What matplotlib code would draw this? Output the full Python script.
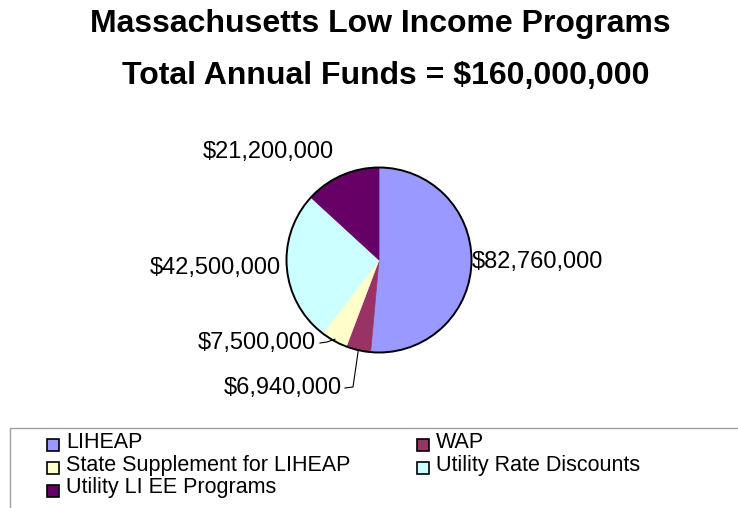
import matplotlib.pyplot as plt
import numpy as np
from matplotlib.patches import Rectangle, Circle

plt.rcParams['font.family'] = ['Liberation Sans', 'DejaVu Sans']

# program funding (dollars)
programs = ['LIHEAP', 'WAP', 'State Supplement for LIHEAP',
            'Utility Rate Discounts', 'Utility LI EE Programs']
funds = [82760000, 6940000, 7500000, 42500000, 21200000]
colors = ['#9999FF', '#993366', '#FFFFCC', '#CCFFFF', '#660066']
title1 = 'Massachusetts Low Income Programs'
title2 = 'Total Annual Funds = $160,000,000'

W, H = 738, 508
fig = plt.figure(figsize=(W / 100, H / 100), dpi=100)

# pie geometry in pixels
cx, cy, r = 379, 260, 92.5
ax = fig.add_axes([(cx - r) / W, (H - cy - r) / H, 2 * r / W, 2 * r / H])

wedges, _ = ax.pie(funds, colors=colors, startangle=90, counterclock=False,
                   radius=1, center=(0, 0))
for w, c in zip(wedges, colors):
    w.set_edgecolor(c)
    w.set_linewidth(0.5)
    w.set_clip_on(False)
ax.add_patch(Circle((0, 0), 1, fill=False, edgecolor='black', lw=1.4, clip_on=False))
ax.set_xlim(-1, 1)
ax.set_ylim(-1, 1)
ax.axis('off')

def px(x, y):
    return (x - cx) / r, (cy - y) / r

# label positions (pixel space), alignment
label_pos = [(472, 262, 'left'), (342, 388, 'right'), (316, 343, 'right'),
             (281, 268, 'right'), (268, 152, 'center')]
for i, w in enumerate(wedges):
    lx, ly, ha = label_pos[i]
    tx, ty = px(lx, ly)
    ax.text(tx, ty, '${:,}'.format(funds[i]), ha=ha, va='center',
            fontsize=17, clip_on=False)
    mid = np.deg2rad((w.theta1 + w.theta2) / 2)
    ex, ey = np.cos(mid), np.sin(mid)
    if i == 1:
        p1 = px(345, 388)
        p2 = px(353, 387)
        ax.plot([p1[0], p2[0], ex], [p1[1], p2[1], ey], color='black',
                lw=0.8, clip_on=False)
    elif i == 2:
        p1 = px(320, 343)
        p2 = px(327, 342)
        ax.plot([p1[0], p2[0], ex * 0.98], [p1[1], p2[1], ey * 0.98],
                color='black', lw=0.8, clip_on=False)

fig.text(380 / W, 1 - 24 / H, title1, ha='center', va='center',
         fontsize=23, fontweight='bold')
fig.text(386 / W, 1 - 76 / H, title2, ha='center', va='center',
         fontsize=23, fontweight='bold')

# legend box
fig.add_artist(Rectangle((10 / W, -0.05), 1.0, (H - 428) / H + 0.05,
                         transform=fig.transFigure, fill=False,
                         edgecolor='#a0a0a0', lw=1.0))
leg_cells = [(47, 442), (417, 442), (47, 465), (417, 465), (47, 488)]
for i, name in enumerate(programs):
    x0, y0 = leg_cells[i]
    fig.add_artist(Rectangle((x0 / W, (H - y0 - 9) / H), 12 / W, 12 / H,
                             transform=fig.transFigure, facecolor=colors[i],
                             edgecolor='black', lw=1.2))
    fig.text((x0 + 19) / W, (H - y0) / H, name, ha='left', va='center',
             fontsize=15.5)

fig.savefig('out.png', dpi=100)
